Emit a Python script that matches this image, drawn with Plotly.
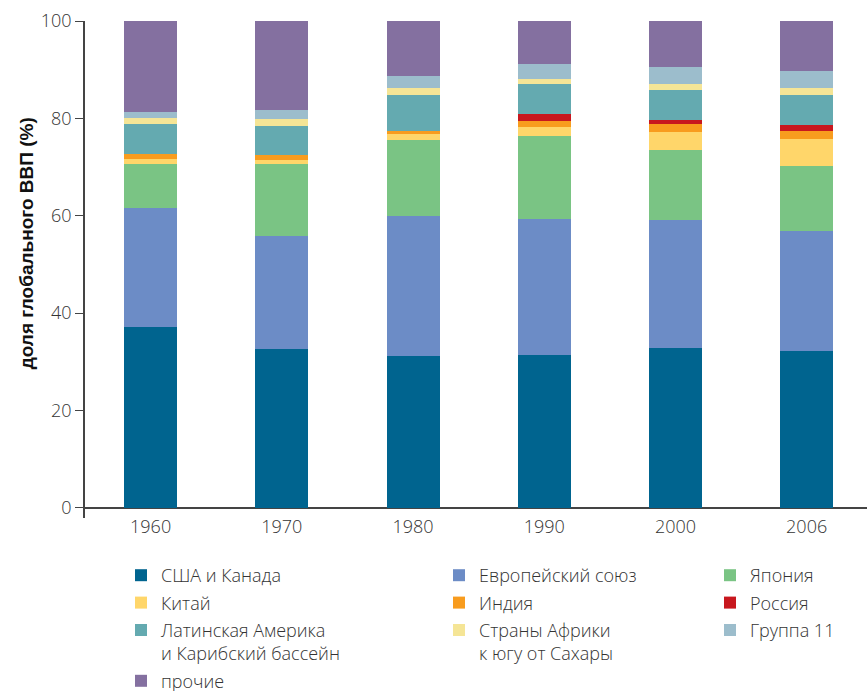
import plotly.graph_objects as go

years = ["1960", "1970", "1980", "1990", "2000", "2006"]

us_canada = [37.1, 32.6, 31.2, 31.4, 32.9, 32.3]
eu = [24.4, 23.2, 28.7, 27.9, 26.2, 24.5]
japan = [9.1, 14.8, 15.6, 17.0, 14.5, 13.4]
china = [1.0, 0.8, 1.2, 1.9, 3.7, 5.5]
india = [1.1, 1.0, 0.8, 1.2, 1.5, 1.8]
russia = [0.0, 0.0, 0.0, 1.4, 0.8, 1.1]
latam = [6.1, 6.0, 7.4, 6.2, 6.3, 6.3]
africa = [1.2, 1.4, 1.3, 1.0, 1.1, 1.3]
group11 = [1.4, 2.0, 2.6, 3.1, 3.5, 3.6]
others = [18.6, 18.2, 11.2, 8.9, 9.5, 10.2]

y_ticks = [0, 20, 40, 60, 80, 100]

series = [
    ("США и Канада", us_canada, "#00648F", "legend"),
    ("Европейский союз", eu, "#6C8CC6", "legend2"),
    ("Япония", japan, "#7AC484", "legend3"),
    ("Китай", china, "#FFD66A", "legend"),
    ("Индия", india, "#F89C1E", "legend2"),
    ("Россия", russia, "#C8171E", "legend3"),
    ("Латинская Америка<br>и Карибский бассейн", latam, "#64AAB0", "legend"),
    ("Страны Африки<br>к югу от Сахары", africa, "#F5E596", "legend2"),
    ("Группа 11", group11, "#9CBDCC", "legend3"),
    ("прочие", others, "#8470A0", "legend"),
]

fig = go.Figure()
for name, vals, color, lg in series:
    fig.add_trace(go.Bar(
        x=years, y=vals, name=name, marker=dict(color=color, line=dict(width=0)),
        width=0.404, legend=lg, legendgroup=name,
    ))

base_font = dict(family="Open Sans", size=18, color="#333333", weight=300)

legend_common = dict(
    orientation="v", yanchor="top", xanchor="left", yref="container", xref="container",
    y=1 - 557 / 691,
    font=base_font, traceorder="grouped", tracegroupgap=1, valign="top",
    bgcolor="rgba(0,0,0,0)", itemclick=False, itemdoubleclick=False,
)

fig.update_layout(
    width=867, height=691,
    barmode="stack",
    plot_bgcolor="white", paper_bgcolor="white",
    margin=dict(l=85, r=0, t=21, b=173, autoexpand=False),
    font=base_font,
    legend=dict(x=121 / 867, **legend_common),
    legend2=dict(x=439 / 867, **legend_common),
    legend3=dict(x=710 / 867, **legend_common),
    xaxis=dict(
        type="category", range=[-0.5, 5.46], showline=False, ticks="",
        showgrid=False, tickfont=base_font, automargin=False, ticklabelstandoff=-4,
    ),
    yaxis=dict(
        range=[-2.1, 100], tickvals=y_ticks, ticks="outside", ticklen=8,
        tickwidth=1.3, tickcolor="#444444",
        showline=True, linecolor="#444444", linewidth=1.5, showgrid=False,
        zeroline=True, zerolinecolor="#444444", zerolinewidth=1.5,
        tickfont=base_font, automargin=False,
    ),
    annotations=[dict(
        text="доля глобального ВВП (%)", textangle=-90,
        xref="paper", yref="paper", x=(26 - 85) / 782, y=(517.5 - 243) / 496.7,
        xanchor="center", yanchor="middle", showarrow=False,
        font=dict(family="Liberation Sans", size=19, color="#111111", weight="bold"),
    )],
)

fig.write_html("out.html", config={"displayModeBar": False},
               post_script="document.body.style.margin='0px';")
